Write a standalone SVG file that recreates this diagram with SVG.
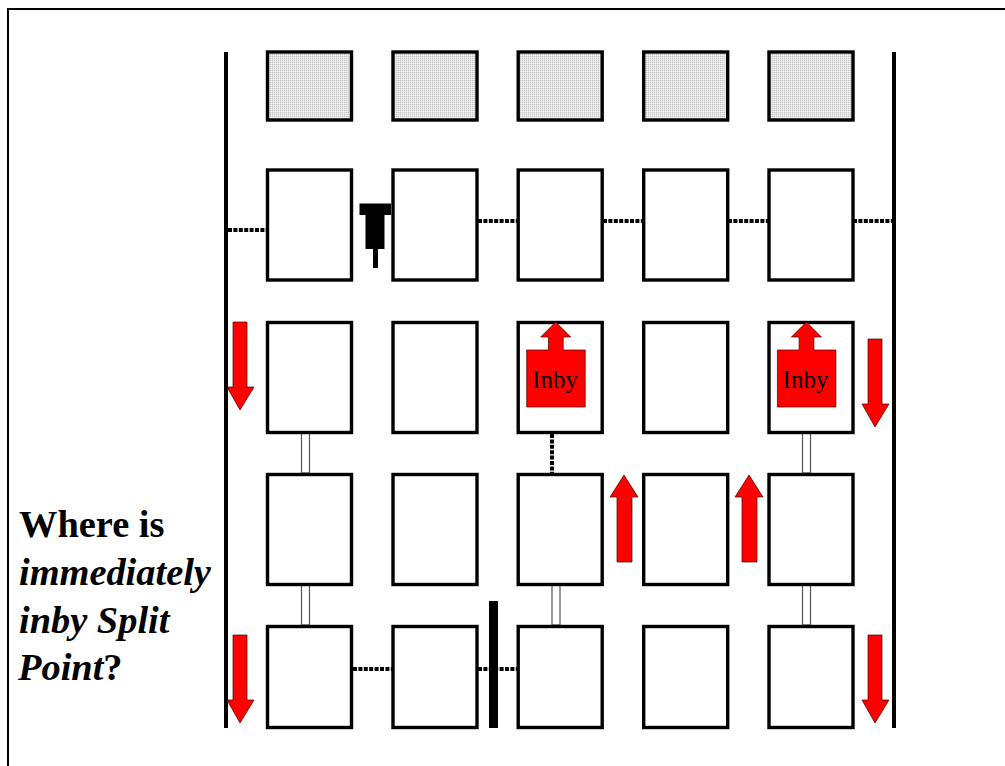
<svg xmlns="http://www.w3.org/2000/svg" width="1005" height="766" viewBox="0 0 1005 766">
<style>
.cell{fill:#fff;stroke:#000;stroke-width:3.400}
.roof{fill:url(#dither);stroke:#000;stroke-width:3.400}
.wall{stroke:#000;stroke-width:4;fill:none}
.dot{stroke:#000;stroke-width:4;stroke-dasharray:4 1.400;fill:none}
.link{fill:#fff;stroke:#555;stroke-width:1.200}
.red{fill:#f00;stroke:#400;stroke-width:.7}
.lbl{font-family:"Liberation Serif","Times New Roman",serif;fill:#000}
.q{font-size:38.400px;font-weight:bold}
.inby{font-size:25px;text-anchor:middle}
</style>
<defs>
<pattern id="dither" width="2" height="2" patternUnits="userSpaceOnUse"><rect width="2" height="2" fill="#e4e4e4"/><rect width="1" height="1" fill="#c4c4c4"/><rect x="1" y="1" width="1" height="1" fill="#f4f4f4"/></pattern>
<path id="down" d="M233 0H247V65H254L240 88L227 65H233Z"/>
<path id="inbyshape" d="M0 28H21.700V15H14L29 0L44 15H36.500V28H58.500V85H0Z"/>
</defs>
<path id="frame" d="M8 766V9H1005" fill="none" stroke="#000" stroke-width="2"/>
<g id="connectors">
<path class="wall" d="M226 52V728"/><path class="wall" d="M894 52V728"/>
<rect x="489" y="601" width="9" height="127" fill="#000"/>
<path class="dot" d="M228 230H268"/>
<path class="dot" d="M478 221H518M603 221H643M728 221H768M853 221H893"/>
<path class="dot" d="M552 434V473"/>
<path class="dot" d="M353 669H393M478 669H518"/>
<rect class="link" x="301.500" y="433" width="8" height="40"/><rect class="link" x="802.500" y="433" width="8" height="40"/>
<rect class="link" x="301.500" y="585" width="8" height="40"/><rect class="link" x="552" y="585" width="8" height="40"/><rect class="link" x="802.500" y="585" width="8" height="40"/>
</g>
<g id="row1">
<rect id="r1c1" class="roof" x="267.500" y="52" width="84" height="68"/><rect id="r1c2" class="roof" x="393" y="52" width="84" height="68"/><rect id="r1c3" class="roof" x="518.200" y="52" width="84" height="68"/><rect id="r1c4" class="roof" x="643.700" y="52" width="84" height="68"/><rect id="r1c5" class="roof" x="769" y="52" width="84" height="68"/>
</g>
<g id="row2">
<rect id="r2c1" class="cell" x="267.500" y="170" width="84" height="110"/><rect id="r2c2" class="cell" x="393" y="170" width="84" height="110"/><rect id="r2c3" class="cell" x="518.200" y="170" width="84" height="110"/><rect id="r2c4" class="cell" x="643.700" y="170" width="84" height="110"/><rect id="r2c5" class="cell" x="769" y="170" width="84" height="110"/>
</g>
<g id="row3">
<rect id="r3c1" class="cell" x="267.500" y="322.500" width="84" height="110"/><rect id="r3c2" class="cell" x="393" y="322.500" width="84" height="110"/><rect id="r3c3" class="cell" x="518.200" y="322.500" width="84" height="110"/><rect id="r3c4" class="cell" x="643.700" y="322.500" width="84" height="110"/><rect id="r3c5" class="cell" x="769" y="322.500" width="84" height="110"/>
</g>
<g id="row4">
<rect id="r4c1" class="cell" x="267.500" y="474.500" width="84" height="110"/><rect id="r4c2" class="cell" x="393" y="474.500" width="84" height="110"/><rect id="r4c3" class="cell" x="518.200" y="474.500" width="84" height="110"/><rect id="r4c4" class="cell" x="643.700" y="474.500" width="84" height="110"/><rect id="r4c5" class="cell" x="769" y="474.500" width="84" height="110"/>
</g>
<g id="row5">
<rect id="r5c1" class="cell" x="267.500" y="626.500" width="84" height="101"/><rect id="r5c2" class="cell" x="393" y="626.500" width="84" height="101"/><rect id="r5c3" class="cell" x="518.200" y="626.500" width="84" height="101"/><rect id="r5c4" class="cell" x="643.700" y="626.500" width="84" height="101"/><rect id="r5c5" class="cell" x="769" y="626.500" width="84" height="101"/>
</g>
<path id="plug" d="M359.500 203.500H391V215H384.500V249H378V268H373V249H365.500V215H359.500Z" fill="#000"/>
<g id="inby1"><use href="#inbyshape" class="red" x="526.700" y="322"/><text class="lbl inby" x="555" y="388">Inby</text></g>
<g id="inby2"><use href="#inbyshape" class="red" x="777.400" y="322"/><text class="lbl inby" x="805.500" y="388">Inby</text></g>
<g id="arrows">
<use href="#down" class="red" y="322"/>
<use href="#down" class="red" y="635"/>
<use href="#down" class="red" x="635" y="339"/>
<use href="#down" class="red" x="635" y="635"/>
<path class="red" d="M617 562V497H610L624 475L638 497H632V562Z"/>
<path class="red" d="M742 562V497H735L749 475L763 497H757V562Z"/>
</g>
<g id="question" class="lbl q">
<text x="19" y="537">Where is</text>
<text x="19" y="585" font-style="italic">immediately</text>
<text x="19" y="633" font-style="italic">inby Split</text>
<text x="18" y="680"><tspan font-style="italic">Point</tspan>?</text>
</g>
</svg>
